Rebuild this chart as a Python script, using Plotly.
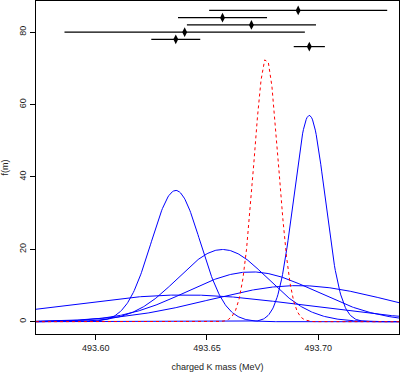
import numpy as np
import plotly.graph_objects as go

# Charged kaon mass measurements (MeV) with errors, and plotting heights
mass = [493.696, 493.636, 493.640, 493.670, 493.657, 493.691]
err = [0.007, 0.011, 0.054, 0.029, 0.020, 0.040]
height = [76, 78, 80, 82, 84, 86]

x_ticks = [493.60, 493.65, 493.70]
x_tick_labels = ["493.60", "493.65", "493.70"]
y_ticks = [0, 20, 40, 60, 80]

x_range = [493.5732, 493.7363]
y_range = [-3.4, 88.6]

xs = np.linspace(x_range[0], x_range[1], 400)

def gauss(x, mu, s):
    return np.exp(-0.5 * ((x - mu) / s) ** 2) / (s * np.sqrt(2 * np.pi))

fig = go.Figure()

for m, s in zip(mass, err):
    fig.add_trace(go.Scatter(x=xs, y=gauss(xs, m, s), mode="lines",
                             line=dict(color="#0000ff", width=1), showlegend=False,
                             hoverinfo="skip"))

# weighted average of the measurements
w = np.array([1 / e ** 2 for e in err])
mu_avg = float(np.sum(w * np.array(mass)) / np.sum(w))
s_avg = float(1 / np.sqrt(np.sum(w)))
xr = np.linspace(x_range[0], x_range[1], 101)
fig.add_trace(go.Scatter(x=xr, y=gauss(xr, mu_avg, s_avg), mode="lines",
                         line=dict(color="#ff0000", width=1, dash="dot"), showlegend=False))

fig.add_trace(go.Scatter(x=mass, y=height, mode="markers",
                         marker=dict(symbol="diamond-tall", size=7, color="black"),
                         error_x=dict(type="data", array=err, color="black", thickness=1.2, width=0),
                         showlegend=False))

font = dict(family="Liberation Sans, Arial, sans-serif", size=9, color="#222")
fig.update_layout(
    width=400, height=372,
    margin=dict(l=36, r=1, t=1, b=38),
    plot_bgcolor="white", paper_bgcolor="white",
    font=font,
    xaxis=dict(range=x_range, tickvals=x_ticks, ticktext=x_tick_labels, automargin=False,
               showgrid=False, zeroline=False, showline=True, linecolor="black", linewidth=1,
               mirror=True, ticks="outside", ticklen=5, tickcolor="black",
               title=dict(text="charged K mass (MeV)", font=font, standoff=14)),
    yaxis=dict(range=y_range, tickvals=y_ticks, tickangle=-90, automargin=False,
               showgrid=False, zeroline=False, showline=True, linecolor="black", linewidth=1,
               mirror=True, ticks="outside", ticklen=5, tickcolor="black",
               title=dict(text="f(m)", font=font, standoff=8)),
)

fig.write_html("out.html", config={"displayModeBar": False},
               post_script="document.body.style.margin='0px';document.body.style.padding='0px';")
